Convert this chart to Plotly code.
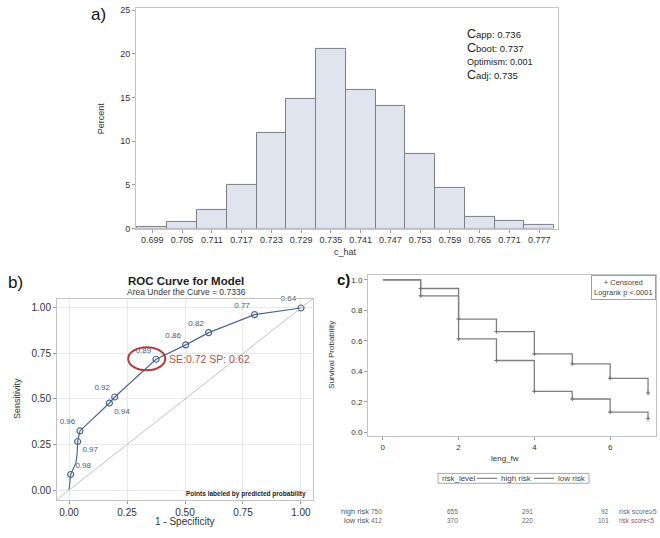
import plotly.graph_objects as go

W, H = 660, 538
FONT = "Liberation Sans, Arial, sans-serif"

# ---------------- Panel a: bootstrap c-statistic histogram ----------------
c_hat_mid = [0.699, 0.705, 0.711, 0.717, 0.723, 0.729, 0.735,
             0.741, 0.747, 0.753, 0.759, 0.765, 0.771, 0.777]
c_hat_pct = [0.23, 0.8, 2.1, 4.95, 11.0, 14.8, 20.6,
             15.9, 14.0, 8.6, 4.7, 1.35, 0.86, 0.41]
c_hat_ticklabels = ["0.699", "0.705", "0.711", "0.717", "0.723", "0.729", "0.735",
                    "0.741", "0.747", "0.753", "0.759", "0.765", "0.771", "0.777"]
pct_ticks = [0, 5, 10, 15, 20, 25]
bin_width = 0.006
c_app, c_boot, optimism, c_adj = 0.736, 0.737, 0.001, 0.735

# ---------------- Panel b: ROC curve ----------------
roc_fpr = [0.0, 0.007, 0.030, 0.035, 0.037, 0.047, 0.174, 0.197, 0.375, 0.503, 0.602, 0.800, 1.000]
roc_tpr = [0.0, 0.085, 0.150, 0.200, 0.266, 0.324, 0.477, 0.510, 0.717, 0.796, 0.863, 0.962, 0.998]
roc_labels = ["", "0.98", "", "", "0.97", "0.96", "0.94", "0.92", "0.89", "0.86", "0.82", "0.77", "0.64"]
roc_label_pos = ["", "top right", "", "", "bottom right", "top left", "bottom right",
                 "top left", "top left", "top left", "top left", "top left", "top left"]
roc_ticks = [0.0, 0.25, 0.5, 0.75, 1.0]
cut_se, cut_sp = 0.72, 0.62

# ---------------- Panel c: Kaplan-Meier ----------------
km_time = [0, 1, 2, 3, 4, 5, 6, 7]
km_low = [1.0, 0.944, 0.743, 0.661, 0.514, 0.449, 0.354, 0.257]   # upper curve
km_high = [1.0, 0.896, 0.613, 0.471, 0.268, 0.218, 0.132, 0.089]  # lower curve
km_groups = ["high risk", "low risk"]
risk_times = [0, 2, 4, 6]
risk_high = [750, 655, 291, 92]
risk_low = [412, 370, 220, 101]
km_xticks = [0, 2, 4, 6]
km_yticks = [0.0, 0.2, 0.4, 0.6, 0.8, 1.0]


def px(x, y):
    return x / W, 1 - y / H


fig = go.Figure()

# Histogram bars
fig.add_trace(go.Bar(
    x=c_hat_mid, y=c_hat_pct, width=bin_width,
    marker=dict(color="#dfe4ee", line=dict(color="#7d7f88", width=1)),
    xaxis="x", yaxis="y", showlegend=False, hoverinfo="skip"))

# ROC curve line
fig.add_trace(go.Scatter(
    x=roc_fpr, y=roc_tpr, mode="lines",
    line=dict(color="#4b6892", width=1.2),
    xaxis="x2", yaxis="y2", showlegend=False, hoverinfo="skip"))
lab_x = [x for x, l in zip(roc_fpr, roc_labels) if l]
lab_y = [y for y, l in zip(roc_tpr, roc_labels) if l]
lab_t = [l for l in roc_labels if l]
lab_p = [p for p, l in zip(roc_label_pos, roc_labels) if l]
fig.add_trace(go.Scatter(
    x=lab_x, y=lab_y, mode="markers+text", text=lab_t, textposition=lab_p,
    textfont=dict(size=8, color="#3f5c8a", family=FONT), cliponaxis=False,
    marker=dict(symbol="circle-open", size=6, color="#4b6892", line=dict(width=1.2)),
    xaxis="x2", yaxis="y2", showlegend=False, hoverinfo="skip"))

# KM curves
fig.add_trace(go.Scatter(
    x=km_time, y=km_high, mode="lines", line=dict(color="#7f7f7f", width=1.3, shape="hv"),
    name=km_groups[0], xaxis="x3", yaxis="y3", showlegend=False, hoverinfo="skip"))
fig.add_trace(go.Scatter(
    x=km_time, y=km_low, mode="lines", line=dict(color="#7f7f7f", width=1.3, shape="hv"),
    name=km_groups[1], xaxis="x3", yaxis="y3", showlegend=False, hoverinfo="skip"))
fig.add_trace(go.Scatter(
    x=km_time[1:] + km_time[1:], y=km_high[1:] + km_low[1:], mode="markers",
    marker=dict(symbol="cross-thin", size=3, line=dict(color="#6f6f6f", width=1)),
    xaxis="x3", yaxis="y3", showlegend=False, hoverinfo="skip"))

axis_common = dict(showline=True, mirror=True, linecolor="#c4c4c4", linewidth=1,
                   ticks="outside", ticklen=3, tickcolor="#9a9a9a",
                   tickfont=dict(size=9, color="#333333", family=FONT),
                   zeroline=False)

ax0, _ = px(136, 0)
ax1, _ = px(558, 0)
_, ay0 = px(0, 229)
_, ay1 = px(0, 5)
bx0, _ = px(57, 0)
bx1, _ = px(313, 0)
_, by0 = px(0, 504)
_, by1 = px(0, 300)
cx0, _ = px(368, 0)
cx1, _ = px(656, 0)
_, cy0 = px(0, 440)
_, cy1 = px(0, 276.5)

fig.update_layout(
    width=W, height=H, margin=dict(l=0, r=0, t=0, b=0),
    paper_bgcolor="white", plot_bgcolor="white",
    font=dict(family=FONT, color="#333333"),
    bargap=0, showlegend=False,
    xaxis=dict(domain=[ax0, ax1], range=[0.6957, 0.7808], tickvals=c_hat_mid,
               ticktext=c_hat_ticklabels, showgrid=False, anchor="y", **axis_common),
    yaxis=dict(domain=[ay0, ay1], range=[0, 25.25], tickvals=pct_ticks, showgrid=False,
               anchor="x", **axis_common),
    xaxis2=dict(domain=[bx0, bx1], range=[-0.052, 1.052], tickvals=roc_ticks,
                tickformat=".2f", showgrid=True, gridcolor="#e9e9e9", anchor="y2",
                **{**axis_common, "tickfont": dict(size=10, color="#333333", family=FONT)}),
    yaxis2=dict(domain=[by0, by1], range=[-0.052, 1.05], tickvals=roc_ticks,
                tickformat=".2f", showgrid=True, gridcolor="#e9e9e9", anchor="x2",
                **{**axis_common, "tickfont": dict(size=10, color="#333333", family=FONT)}),
    xaxis3=dict(domain=[cx0, cx1], range=[-0.39, 7.21], tickvals=km_xticks,
                showgrid=False, anchor="y3",
                **{**axis_common, "tickfont": dict(size=8, color="#333333", family=FONT)}),
    yaxis3=dict(domain=[cy0, cy1], range=[-0.028, 1.03], tickvals=km_yticks,
                tickformat=".1f", showgrid=False, anchor="x3",
                **{**axis_common, "tickfont": dict(size=8, color="#333333", family=FONT)}),
)

shapes = []
# ROC diagonal
shapes.append(dict(type="line", xref="x2 domain", yref="y2 domain", x0=0, y0=0, x1=1, y1=1,
                   line=dict(color="#c2c2c2", width=1)))
# red ellipse around cut-point
shapes.append(dict(type="circle", xref="x2", yref="y2", x0=0.255, x1=0.415, y0=0.657, y1=0.783,
                   line=dict(color="#b23a3a", width=2)))

# KM legend box (drawn manually to match the compact SAS legend)
lx0, ly0 = px(438, 477.5)
lx1, ly1 = px(589, 487.5)
shapes.append(dict(type="rect", xref="paper", yref="paper", x0=lx0, x1=lx1, y0=ly1, y1=ly0,
                   line=dict(color="#a8a8a8", width=1), fillcolor="white"))
for a, b in [(477, 497), (534, 554)]:
    sx0, sy = px(a, 482.5)
    sx1, _ = px(b, 482.5)
    shapes.append(dict(type="line", xref="paper", yref="paper", x0=sx0, x1=sx1, y0=sy, y1=sy,
                       line=dict(color="#7f7f7f", width=1.2)))
fig.update_layout(shapes=shapes)

ann = []


def add_text(x, y, text, size, color="#333333", xanchor="center", yanchor="middle",
             textangle=0, **kw):
    xp, yp = px(x, y)
    ann.append(dict(x=xp, y=yp, xref="paper", yref="paper", text=text, showarrow=False,
                    font=dict(size=size, color=color, family=FONT), xanchor=xanchor,
                    yanchor=yanchor, textangle=textangle, **kw))


# panel a texts
add_text(98, 12, "a)", 17, "#111111")
add_text(101, 117, "Percent", 9, textangle=-90)
add_text(345, 253, "c_hat", 9)
big_c = "<span style='font-size:12.5px'>C</span>"
stats_text = (f"{big_c}<span style='font-size:9.5px'>app: {c_app:.3f}</span><br>"
              f"{big_c}<span style='font-size:9.5px'>boot: {c_boot:.3f}</span><br>"
              f"<span style='font-size:9px'>Optimism: {optimism:.3f}</span><br>"
              f"{big_c}<span style='font-size:9.5px'>adj: {c_adj:.3f}</span>")
add_text(465, 52.5, stats_text, 10.5, "#222", xanchor="left", align="left")

# panel b texts
add_text(15, 284, "b)", 17, "#111111")
add_text(186, 282, "<b>ROC Curve for Model</b>", 11.5, "#222")
add_text(186, 293, "Area Under the Curve = 0.7336", 8.5, "#333")
add_text(17, 402, "Sensitivity", 9, textangle=-90)
add_text(185, 526, "1 - Specificity", 10)
add_text(308, 498, "<b>Points labeled by predicted probability</b>", 6.5, "#222", xanchor="right")
ann.append(dict(x=0.423, y=cut_se, xref="x2", yref="y2",
                text=f"SE:{cut_se:.2f} SP: {cut_sp:.2f}", showarrow=False,
                font=dict(size=10.5, color="#b4524e", family=FONT), xanchor="left",
                yanchor="middle"))

# panel c texts
add_text(343, 281, "<b>c)</b>", 15, "#111111")
add_text(332, 357, "Survival Probability", 8, textangle=-90)
add_text(505, 462, "leng_fw", 8)
ann.append(dict(x=1, y=1, xref="x3 domain", yref="y3 domain",
                text="+ Censored<br>Logrank p <.0001", showarrow=False, align="center",
                font=dict(size=7.5, color="#444", family=FONT), xanchor="right",
                yanchor="top", bordercolor="#a0a0a0", borderwidth=1, borderpad=2,
                bgcolor="white"))
# legend texts
add_text(440, 482.5, "risk_level", 8, "#444", xanchor="left")
add_text(499, 482.5, km_groups[0], 8, "#444", xanchor="left")
add_text(556, 482.5, km_groups[1], 8, "#444", xanchor="left")

# risk table
_, yh = px(0, 516)
_, yl = px(0, 525)
add_text(371, 516, km_groups[0], 7.5, "#555", xanchor="right")
add_text(371, 525, km_groups[1], 7.5, "#555", xanchor="right")
for t, nh, nl in zip(risk_times, risk_high, risk_low):
    ann.append(dict(x=t, y=yh, xref="x3", yref="paper", text=str(nh), showarrow=False,
                    font=dict(size=6.5, color="#666", family=FONT), xanchor="right",
                    yanchor="middle", xshift=1))
    ann.append(dict(x=t, y=yl, xref="x3", yref="paper", text=str(nl), showarrow=False,
                    font=dict(size=6.5, color="#666", family=FONT), xanchor="right",
                    yanchor="middle", xshift=1))
add_text(617, 516, "risk score≥5", 7, "#5f6684", xanchor="left")
add_text(617, 525, "risk score<5", 6.5, "#a45454", xanchor="left")

fig.update_layout(annotations=ann)

fig.write_html("out.html", config={"displayModeBar": False},
               post_script="document.body.style.margin='0px';")
